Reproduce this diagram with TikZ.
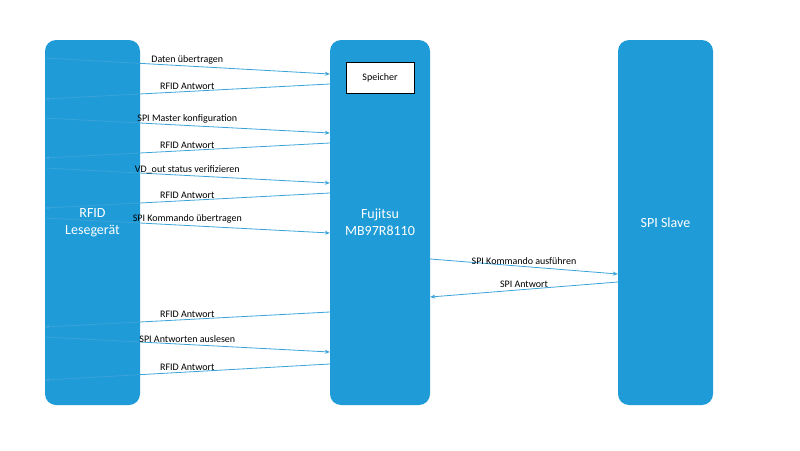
\documentclass[tikz,border=0pt]{standalone}
\usepackage{fontspec}
\setmainfont{Carlito}
\usetikzlibrary{arrows.meta}
\definecolor{bx}{HTML}{1F9BD7}
\definecolor{ar}{HTML}{3AA3DA}
\begin{document}
\begin{tikzpicture}[x=1pt,y=-1pt,
  lane/.style={draw=none,fill=bx,rounded corners=11pt,minimum width=95pt,minimum height=365pt,text=white,font=\fontsize{14}{17}\selectfont,align=center},
  msg/.style={draw=ar,line width=0.8pt,-{Stealth[length=5pt,width=4pt]}},
  lbl/.style={font=\fontsize{10}{12}\selectfont,above,inner sep=1.5pt}]
\useasboundingbox (0,0) rectangle (800,450);
\node[lane] (L) at (92.5,222.5) {RFID\\Lesegerät};
\node[lane,minimum width=100pt] (M) at (380,222.5) {Fujitsu\\MB97R8110};
\node[lane] (R) at (665.5,222.5) {SPI Slave};
\node[draw=black,fill=white,minimum width=68pt,minimum height=31pt,inner sep=0pt,font=\fontsize{10}{12}\selectfont] (S) at (380,77.5) {Speicher};
\foreach \a/\ya/\b/\yb/\t [count=\i] in {
 L/58/M/74/Daten übertragen,
 M/84/L/99/RFID Antwort,
 L/118/M/133/SPI Master konfiguration,
 M/143/L/158/RFID Antwort,
 L/168/M/183/VD\_out status verifizieren,
 M/193/L/208/RFID Antwort,
 L/218/M/233/SPI Kommando übertragen,
 M/312/L/327/RFID Antwort,
 L/337/M/352/SPI Antworten auslesen,
 M/364/L/380/RFID Antwort}{
 \coordinate (p\i) at (0,\ya); \coordinate (q\i) at (0,\yb);
 \draw[msg] (\a.\ifx\a L east\else west\fi |- p\i) -- node[lbl]{\t} (\b.\ifx\b L east\else west\fi |- q\i);
}
\coordinate (s1) at (0,259); \coordinate (s2) at (0,274);
\coordinate (s3) at (0,282); \coordinate (s4) at (0,297);
\draw[msg] (M.east |- s1) -- node[lbl]{SPI Kommando ausführen} (R.west |- s2);
\draw[msg] (R.west |- s3) -- node[lbl]{SPI Antwort} (M.east |- s4);
\end{tikzpicture}
\end{document}
